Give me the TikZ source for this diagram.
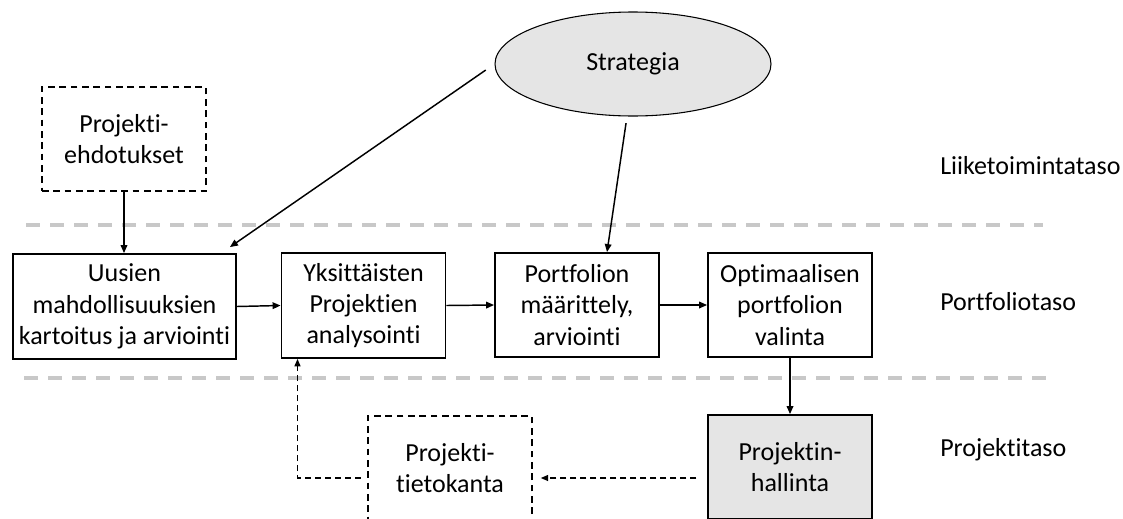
\documentclass[tikz,border=0pt]{standalone}
\usepackage{fontspec}
\setmainfont{Carlito}[Ligatures=NoCommon]
\usetikzlibrary{arrows.meta,calc,shapes.geometric}
\definecolor{levelgray}{RGB}{200,200,200}
\definecolor{softgray}{RGB}{229,229,229}
\begin{document}
\begin{tikzpicture}[x=0.75pt,y=-0.75pt,
  font=\fontsize{19.5}{23.5}\selectfont,
  stepbox/.style={draw, line width=1.4pt, inner sep=0pt, align=center,
    minimum width=164*0.75pt, minimum height=104*0.75pt},
  dashbox/.style={stepbox, line width=1.2pt, dash pattern=on 5pt off 3.5pt},
  level/.style={draw=levelgray, line width=3pt, dash pattern=on 10.5pt off 7.5pt},
  arr/.style={line width=1.1pt, -{Triangle[length=6pt,width=5pt]}},
  darr/.style={line width=0.9pt, dash pattern=on 4.5pt off 3pt, -{Triangle[length=5.5pt,width=4.5pt]}},
  tier/.style={anchor=west, inner sep=0pt}]
\useasboundingbox (0,0) rectangle (1123,518);
\clip (0,0) rectangle (1123,518);

% level separators
\draw[level] (26,225) -- (1043,225);
\draw[level] (24,378) -- (1050,378);

% strategy
\node[ellipse, draw, line width=0.8pt, fill=softgray, inner sep=0pt,
  minimum width=276*0.75pt, minimum height=104*0.75pt] (st) at (633,64) {Strategia};

% business level input
\node[dashbox] (pe) at (124,139) {Projekti-\\ehdotukset};

% portfolio level steps
\node[stepbox, minimum width=223*0.75pt, minimum height=105*0.75pt] (b1) at (124.5,306.5)
  {Uusien\\mahdollisuuksien\\kartoitus ja arviointi};
\node[stepbox, minimum height=105*0.75pt] (b2) at (363.5,305.5)
  {Yksittäisten\\Projektien\\analysointi};
\node[stepbox] (b3) at (577,305) {Portfolion\\määrittely,\\arviointi};
\node[stepbox] (b4) at (790,305) {Optimaalisen\\portfolion\\valinta};

% project level
\node[stepbox, fill=softgray] (ph) at (790,467) {Projektin-\\hallinta};
\node[dashbox] (tk) at (450,468) {Projekti-\\tietokanta};

% tier labels
\node[tier] (l1) at (940,166) {Liiketoimintataso};
\node[tier] (l2) at (940,302) {Portfoliotaso};
\node[tier] (l3) at (940,450) {Projektitaso};

% connectors
\draw[arr] (pe.south) -- (pe.south |- b1.north);
\draw[arr, shorten <=8pt] (st.west) -- ($(b1.north east)+(-7,-6)$);
\draw[arr, shorten <=5pt] ($(st.south)+(-6,0)$) -- ($(b3.north)+(30,0)$);
\draw[arr] (b1.east) -- (b2.west);
\draw[arr] (b2.east) -- (b3.west);
\draw[arr] (b3.east) -- (b4.west);
\draw[arr] (b4.south) -- (ph.north);
\draw[darr, shorten <=8pt, shorten >=6pt] ($(ph.west)+(0,11)$) -- ($(tk.east)+(0,10)$);
\draw[darr, shorten <=5pt] ($(tk.west)+(0,10)$) -| ($(b2.south)+(-66,0)$);
\end{tikzpicture}
\end{document}
